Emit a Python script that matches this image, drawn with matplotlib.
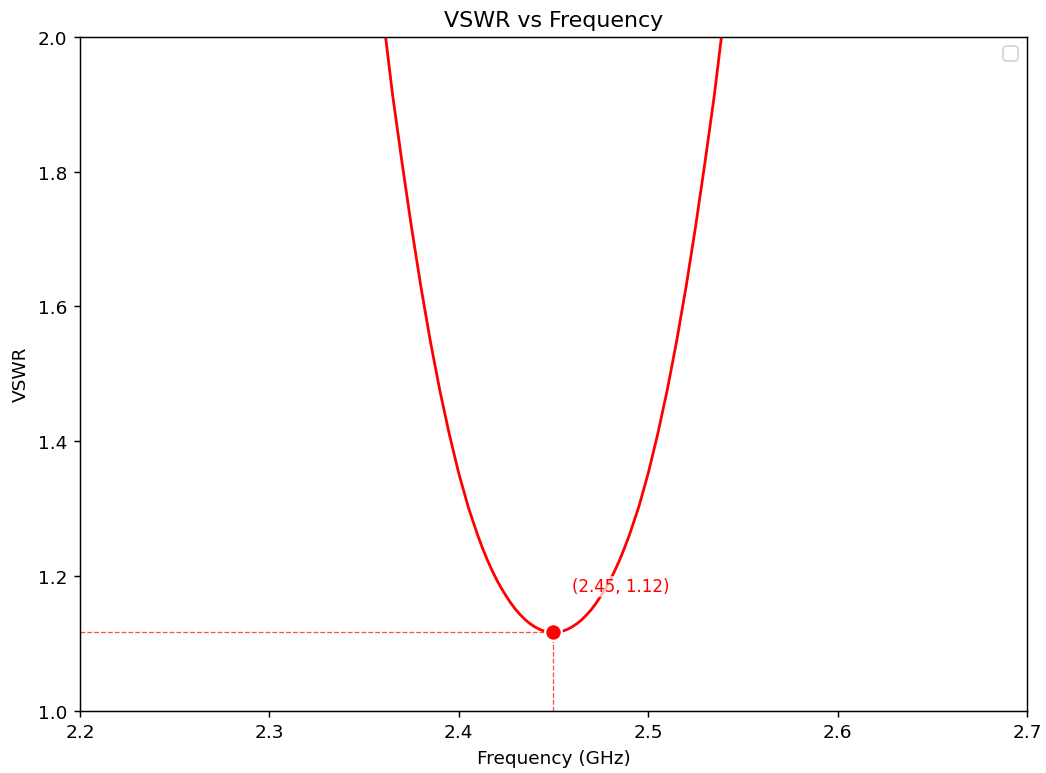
import numpy as np
import matplotlib
matplotlib.use('Agg')
import matplotlib.pyplot as plt

# Frequencies (GHz) and VSWR
freq = [2.350, 2.355, 2.360, 2.365, 2.370, 2.375, 2.380, 2.385, 2.390, 2.395,
        2.400, 2.405, 2.410, 2.4125, 2.415, 2.4175, 2.420, 2.4225, 2.425, 2.4275,
        2.430, 2.4325, 2.435, 2.4375, 2.440, 2.4425, 2.445, 2.4475,
        2.450,
        2.4525, 2.455, 2.4575, 2.460, 2.4625, 2.465, 2.4675, 2.470, 2.4725,
        2.475, 2.4775, 2.480, 2.4825, 2.485, 2.4875, 2.490, 2.495, 2.500,
        2.505, 2.510, 2.515, 2.520, 2.525, 2.530, 2.535, 2.540, 2.545, 2.550]
vswr = [2.286, 2.154, 2.031, 1.915, 1.814, 1.718, 1.629, 1.548, 1.475, 1.410,
        1.352, 1.302, 1.260, 1.2414, 1.224, 1.2084, 1.194, 1.1814, 1.170, 1.1594,
        1.150, 1.1421, 1.135, 1.1292, 1.1245, 1.1207, 1.118, 1.1165,
        1.116,
        1.1165, 1.118, 1.1207, 1.1245, 1.1292, 1.135, 1.1421, 1.150, 1.1594,
        1.170, 1.1814, 1.194, 1.2084, 1.224, 1.2414, 1.260, 1.302, 1.352,
        1.410, 1.475, 1.548, 1.629, 1.718, 1.814, 1.915, 2.031, 2.154, 2.286]

# Point of minimum VSWR
f_min = 2.45
v_min = 1.116

dpi = 133
fig, ax = plt.subplots(figsize=(1046 / dpi, 774 / dpi), dpi=dpi)
fig.subplots_adjust(left=0.0765, right=0.9818, bottom=0.0807, top=0.951)

ax.plot(freq, vswr, color='red', linewidth=1.5)

# Dashed guides to the axes
ax.hlines(v_min, 2.2, f_min, colors='red', linestyles='--', linewidth=0.7, alpha=0.7)
ax.vlines(f_min, 1.0, v_min, colors='red', linestyles='--', linewidth=0.7, alpha=0.7)

ax.plot(f_min, v_min, 'o', color='red', markersize=9,
        markeredgecolor='white', markeredgewidth=1.2, zorder=5)
ax.text(f_min + 0.01, v_min + 0.055, f'({f_min:.2f}, {v_min:.2f})', color='red',
        fontsize=9, va='bottom', ha='left',
        bbox=dict(facecolor='white', edgecolor='none', alpha=0.7, pad=1))

ax.set_xlim(2.2, 2.7)
ax.set_ylim(1.0, 2.0)
ax.set_xlabel('Frequency (GHz)')
ax.set_ylabel('VSWR')
ax.set_title('VSWR vs Frequency')
ax.legend(loc='upper right')

fig.savefig('out.png', dpi=dpi)
